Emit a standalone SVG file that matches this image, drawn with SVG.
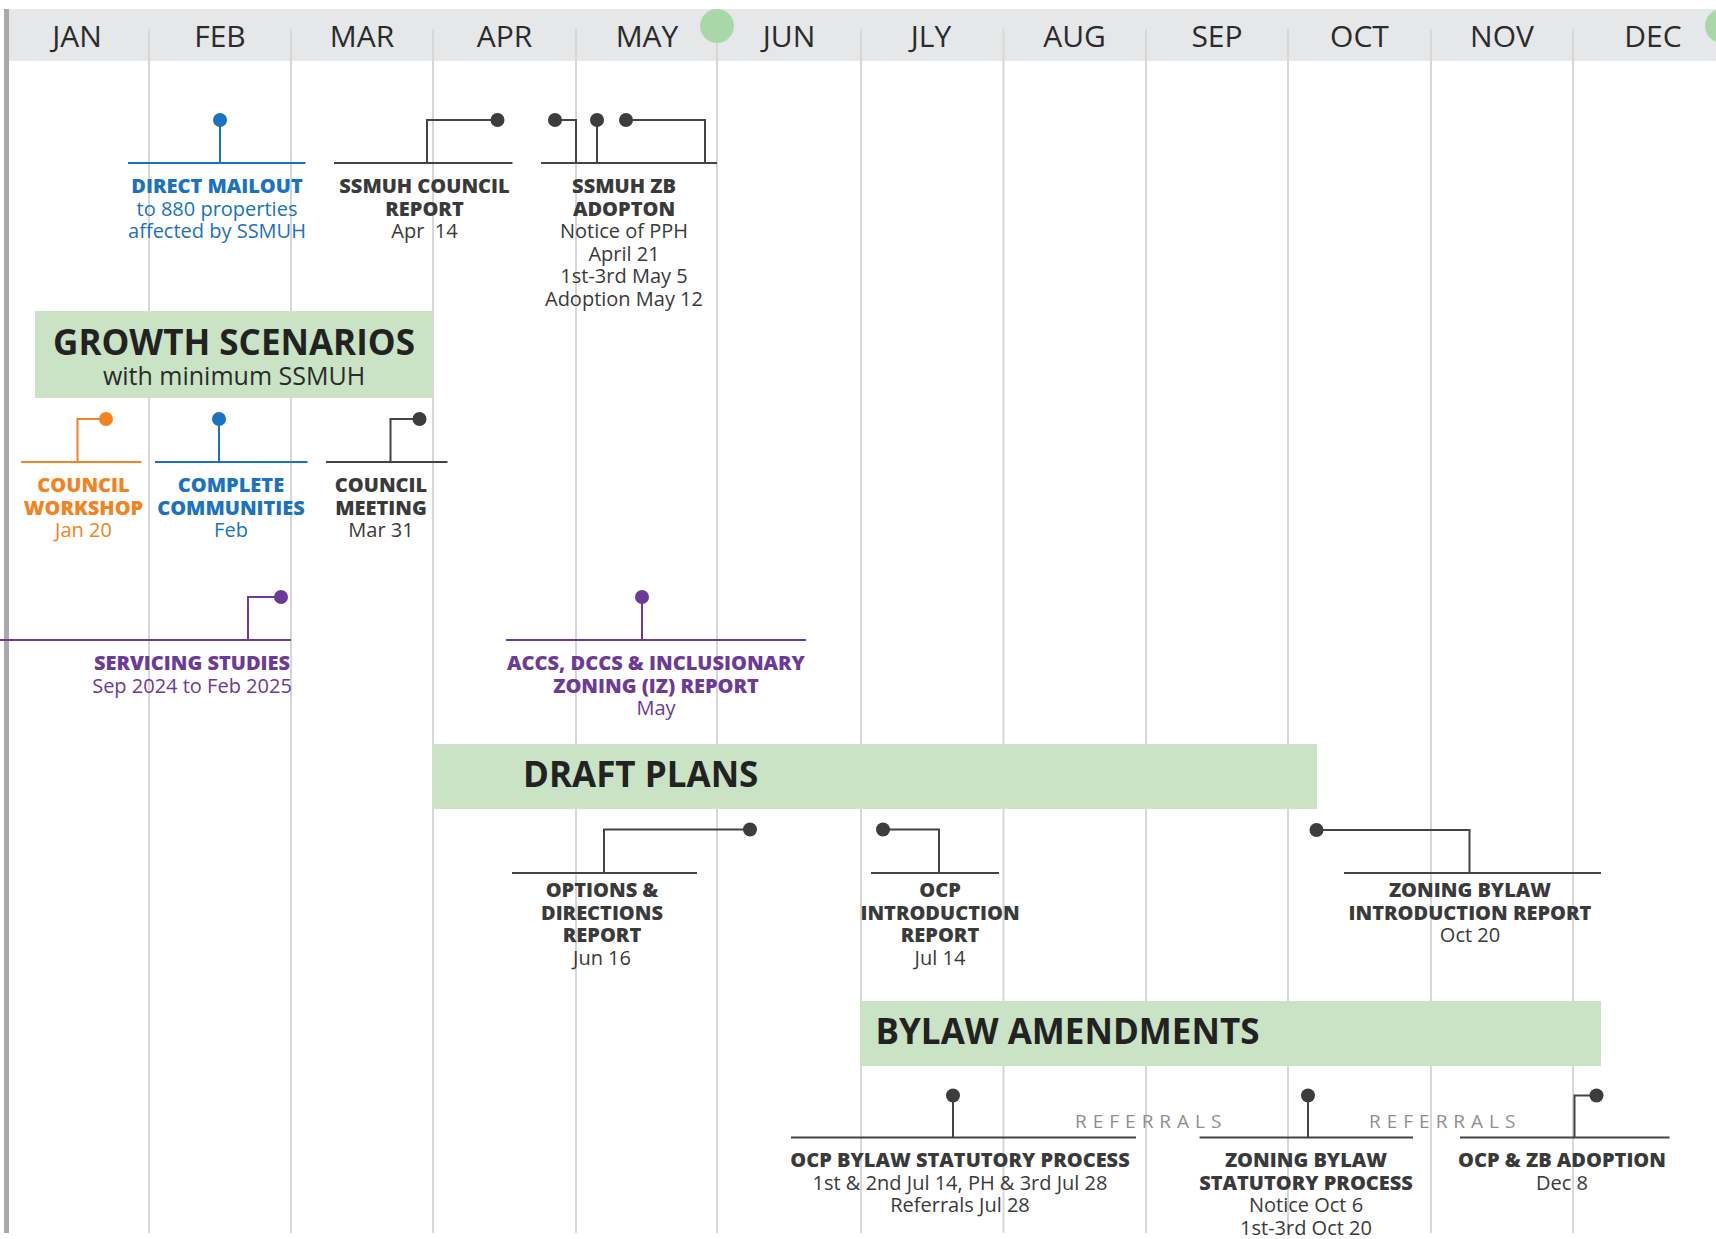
<svg xmlns="http://www.w3.org/2000/svg" width="1716" height="1239" viewBox="0 0 1716 1239">
  <style>
    text { font-family: "Open Sans", "Noto Sans", "Liberation Sans", sans-serif; text-anchor: middle; }
    .month { font-size: 30px; fill: #2b2b2b; }
    .grid { stroke: #d7d7d7; stroke-width: 2; fill: none; }
    .band { fill: #c9e3c4; }
    .band-title { font-size: 35px; font-weight: 700; fill: #222; text-anchor: start; }
    .h { font-size: 20px; font-weight: 800; }
    .t { font-size: 20px; font-weight: 400; }
    .dark { fill: #3a3a3a; }
    .blue { fill: #1a72c1; }
    .orange { fill: #f48220; }
    .purple { fill: #6c3a98; }
    .ln { fill: none; stroke-width: 2; }
    .ln-dark { stroke: #444; }
    .ln-blue { stroke: #1a72c1; }
    .ln-orange { stroke: #f48220; }
    .ln-purple { stroke: #6c3a98; }
    .referrals { font-size: 19px; fill: #8f8f8f; letter-spacing: 6px; text-anchor: start; }
  </style>

  <!-- month header -->
  <rect x="9" y="9" width="1707" height="52" fill="#e6e7e8"/>
  <rect x="4" y="9" width="5" height="1224" fill="#a8a8aa"/>

  <!-- month grid -->
  <g id="grid">
    <path class="grid" d="M149,29V1233 M291,29V1233 M433,29V1233 M576,29V1233 M717,40V1233 M861,29V1233 M1003.5,29V1233 M1146,29V1233 M1288,29V1233 M1431,29V1233 M1573,29V1233"/>
  </g>
  <circle cx="717" cy="26" r="17" fill="#a9d8a8"/>
  <circle cx="1722" cy="26" r="17" fill="#a9d8a8"/>

  <g id="months">
    <text class="month" x="77" y="47">JAN</text>
    <text class="month" x="220" y="47">FEB</text>
    <text class="month" x="362" y="47">MAR</text>
    <text class="month" x="504.5" y="47">APR</text>
    <text class="month" x="647" y="47">MAY</text>
    <text class="month" x="789" y="47">JUN</text>
    <text class="month" x="931" y="47">JLY</text>
    <text class="month" x="1074.5" y="47">AUG</text>
    <text class="month" x="1217" y="47">SEP</text>
    <text class="month" x="1359.5" y="47">OCT</text>
    <text class="month" x="1502" y="47">NOV</text>
    <text class="month" x="1653" y="47">DEC</text>
  </g>

  <!-- phase bands -->
  <g id="growth-scenarios">
    <rect class="band" x="35" y="311" width="398" height="87"/>
    <text x="234" y="354.5" style="font-size:35px;font-weight:700;fill:#222">GROWTH SCENARIOS</text>
    <text x="234" y="385" style="font-size:25px;fill:#2b2b2b">with minimum SSMUH</text>
  </g>
  <g id="draft-plans">
    <rect class="band" x="433" y="744" width="884" height="65"/>
    <text class="band-title" x="523" y="787">DRAFT PLANS</text>
  </g>
  <g id="bylaw-amendments">
    <rect class="band" x="861" y="1001" width="740" height="65"/>
    <text class="band-title" x="875.5" y="1043.5">BYLAW AMENDMENTS</text>
  </g>

  <!-- milestone connectors: base rules, leaders and dots -->
  <g id="connectors">
    <g class="ln ln-blue">
      <path d="M128,163H305.5 M220,120V163"/>
      <path d="M155,462H307.5 M219,419V462"/>
    </g>
    <g class="ln ln-orange">
      <path d="M21,462H141.5 M106,419H77.5V462"/>
    </g>
    <g class="ln ln-purple">
      <path d="M0,640H291 M281,597H248V640"/>
      <path d="M506,640H806 M642,597V640"/>
    </g>
    <g class="ln ln-dark">
      <path d="M334,163H512.5 M497.5,120H427V163"/>
      <path d="M541,163H717 M555,120H576V163 M597,120V163 M626,120H705V163"/>
      <path d="M326,462H447.5 M419.5,419H390.5V462"/>
      <path d="M512,873H697 M750,829.5H604V873"/>
      <path d="M871,873H999 M883,829.5H939V873"/>
      <path d="M1344,873H1601 M1316.5,830H1469.5V873"/>
      <path d="M791,1137.5H1136 M953,1095.5V1137.5"/>
      <path d="M1199.5,1137.5H1413 M1308,1095.5V1137.5"/>
      <path d="M1460,1137.5H1669.5 M1596.5,1095.5H1574.5V1137.5"/>
    </g>
    <g fill="#1a72c1">
      <circle cx="220" cy="120" r="7"/>
      <circle cx="219" cy="419" r="7"/>
    </g>
    <circle cx="106" cy="419" r="7" fill="#f48220"/>
    <g fill="#6c3a98">
      <circle cx="281" cy="597" r="7"/>
      <circle cx="642" cy="597" r="7"/>
    </g>
    <g fill="#3d3d3d">
      <circle cx="497.5" cy="120" r="7"/>
      <circle cx="555" cy="120" r="7"/>
      <circle cx="597" cy="120" r="7"/>
      <circle cx="626" cy="120" r="7"/>
      <circle cx="419.5" cy="419" r="7"/>
      <circle cx="750" cy="829.5" r="7"/>
      <circle cx="883" cy="829.5" r="7"/>
      <circle cx="1316.5" cy="830" r="7"/>
      <circle cx="953" cy="1095.5" r="7"/>
      <circle cx="1308" cy="1095.5" r="7"/>
      <circle cx="1596.5" cy="1095.5" r="7"/>
    </g>
  </g>

  <!-- milestones -->
  <g id="direct-mailout">
    <text class="h blue" x="217" y="193">DIRECT MAILOUT</text>
    <text class="t blue" x="217" y="215.5">to 880 properties</text>
    <text class="t blue" x="217" y="238">affected by SSMUH</text>
  </g>
  <g id="ssmuh-council-report">
    <text class="h dark" x="424.5" y="193">SSMUH COUNCIL</text>
    <text class="h dark" x="424.5" y="215.5">REPORT</text>
    <text class="t dark" x="424.5" y="238" xml:space="preserve">Apr  14</text>
  </g>
  <g id="ssmuh-zb-adoption">
    <text class="h dark" x="624" y="193">SSMUH ZB</text>
    <text class="h dark" x="624" y="215.5">ADOPTON</text>
    <text class="t dark" x="624" y="238">Notice of PPH</text>
    <text class="t dark" x="624" y="260.5">April 21</text>
    <text class="t dark" x="624" y="283">1st-3rd May 5</text>
    <text class="t dark" x="624" y="305.5">Adoption May 12</text>
  </g>
  <g id="council-workshop">
    <text class="h orange" x="83.5" y="492">COUNCIL</text>
    <text class="h orange" x="83.5" y="514.5">WORKSHOP</text>
    <text class="t orange" x="83.5" y="537">Jan 20</text>
  </g>
  <g id="complete-communities">
    <text class="h blue" x="231" y="492">COMPLETE</text>
    <text class="h blue" x="231" y="514.5">COMMUNITIES</text>
    <text class="t blue" x="231" y="537">Feb</text>
  </g>
  <g id="council-meeting">
    <text class="h dark" x="381" y="492">COUNCIL</text>
    <text class="h dark" x="381" y="514.5">MEETING</text>
    <text class="t dark" x="381" y="537">Mar 31</text>
  </g>
  <g id="servicing-studies">
    <text class="h purple" x="192" y="670">SERVICING STUDIES</text>
    <text class="t purple" x="192" y="692.5">Sep 2024 to Feb 2025</text>
  </g>
  <g id="accs-dccs-iz-report">
    <text class="h purple" x="656" y="670">ACCS, DCCS &amp; INCLUSIONARY</text>
    <text class="h purple" x="656" y="692.5">ZONING (IZ) REPORT</text>
    <text class="t purple" x="656" y="715">May</text>
  </g>
  <g id="options-directions-report">
    <text class="h dark" x="602" y="897">OPTIONS &amp;</text>
    <text class="h dark" x="602" y="919.5">DIRECTIONS</text>
    <text class="h dark" x="602" y="942">REPORT</text>
    <text class="t dark" x="602" y="964.5">Jun 16</text>
  </g>
  <g id="ocp-introduction-report">
    <text class="h dark" x="940" y="897">OCP</text>
    <text class="h dark" x="940" y="919.5">INTRODUCTION</text>
    <text class="h dark" x="940" y="942">REPORT</text>
    <text class="t dark" x="940" y="964.5">Jul 14</text>
  </g>
  <g id="zoning-bylaw-introduction-report">
    <text class="h dark" x="1470" y="897">ZONING BYLAW</text>
    <text class="h dark" x="1470" y="919.5">INTRODUCTION REPORT</text>
    <text class="t dark" x="1470" y="942">Oct 20</text>
  </g>
  <g id="ocp-bylaw-statutory-process">
    <text class="h dark" x="960" y="1167">OCP BYLAW STATUTORY PROCESS</text>
    <text class="t dark" x="960" y="1189.5">1st &amp; 2nd Jul 14, PH &amp; 3rd Jul 28</text>
    <text class="t dark" x="960" y="1212">Referrals Jul 28</text>
  </g>
  <g id="zoning-bylaw-statutory-process">
    <text class="h dark" x="1306" y="1167">ZONING BYLAW</text>
    <text class="h dark" x="1306" y="1189.5">STATUTORY PROCESS</text>
    <text class="t dark" x="1306" y="1212">Notice Oct 6</text>
    <text class="t dark" x="1306" y="1234.5">1st-3rd Oct 20</text>
  </g>
  <g id="ocp-zb-adoption">
    <text class="h dark" x="1562" y="1167">OCP &amp; ZB ADOPTION</text>
    <text class="t dark" x="1562" y="1189.5">Dec 8</text>
  </g>
  <g id="referrals">
    <text class="referrals" x="1075" y="1128">REFERRALS</text>
    <text class="referrals" x="1369" y="1128">REFERRALS</text>
  </g>
</svg>
